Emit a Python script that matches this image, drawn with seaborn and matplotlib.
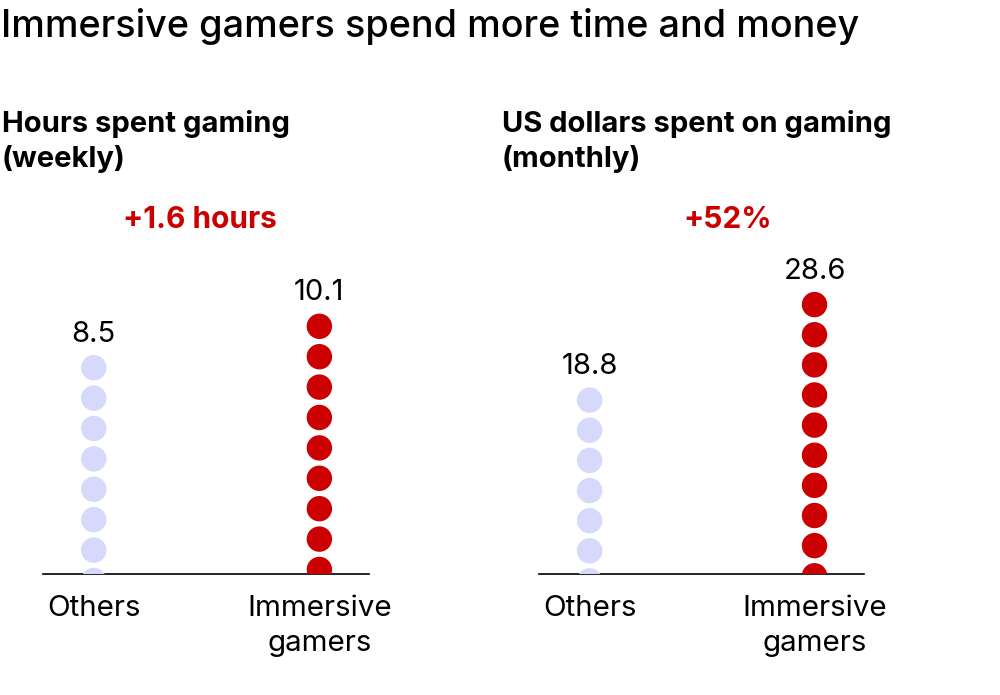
import matplotlib
matplotlib.use("Agg")
import matplotlib.pyplot as plt
import seaborn as sns
import pandas as pd
import numpy as np

# ---- data ----
categories = ["Others", "Immersive gamers"]
cat_lines = [["Others"], ["Immersive", "gamers"]]
hours_values = [8.5, 10.1]
dollars_values = [18.8, 28.6]
value_labels_hours = ["8.5", "10.1"]
value_labels_dollars = ["18.8", "28.6"]
panel_titles = [["Hours spent gaming", "(weekly)"], ["US dollars spent on gaming", "(monthly)"]]
diff_labels = ["+1.6 hours", "+52%"]
title = "Immersive gamers spend more time and money"

RED = "#CC0000"
LAV = "#D6D8FC"
palette = {categories[0]: LAV, categories[1]: RED}

sns.set_theme(style="white")
plt.rcParams["font.family"] = ["Inter", "DejaVu Sans"]
plt.rcParams["text.color"] = "black"

W, H = 1000, 695
fig = plt.figure(figsize=(W / 100, H / 100), dpi=100)


def px(x, y):
    return x / W, 1 - y / H


def make_panel(left, width, values, labels, ylim, step, subtitle, sub_x, diff, diff_x):
    base_y = 574.3
    top_y = 250
    ax = fig.add_axes([left / W, (H - base_y) / H, width / W, (base_y - top_y) / H])
    rows = []
    for cat, v in zip(categories, values):
        y = v
        while y > ylim[0] - step:
            rows.append({"group": cat, "y": y})
            y -= step
    df = pd.DataFrame(rows)
    sns.scatterplot(data=df, x="group", y="y", hue="group", palette=palette,
                    s=335, linewidth=0, legend=False, ax=ax, zorder=3)
    ax.set_xlim(-0.225, 1.22)
    ax.set_ylim(*ylim)
    for s in ["top", "left", "right"]:
        ax.spines[s].set_visible(False)
    ax.spines["bottom"].set_color("black")
    ax.spines["bottom"].set_linewidth(1.2)
    ax.set_xticks([])
    ax.set_yticks([])
    ax.set_xlabel("")
    ax.set_ylabel("")
    for i, (v, lab) in enumerate(zip(values, labels)):
        ax.annotate(lab, xy=(i, v), xytext=(0, 18.7), textcoords="offset points",
                    ha="center", va="baseline", fontsize=21, color="black")
        for j, line in enumerate(cat_lines[i]):
            ax.annotate(line, xy=(i, 0), xycoords=("data", "axes fraction"),
                        xytext=(0, -30 - j * 25.5), textcoords="offset points",
                        ha="center", va="baseline", fontsize=21.3, color="black")
    fig.text(*px(sub_x, 132), subtitle[0], fontsize=21, fontweight="bold",
             va="baseline", ha="left", color="black")
    fig.text(*px(sub_x, 167), subtitle[1], fontsize=21, fontweight="bold",
             va="baseline", ha="left", color="black")
    fig.text(*px(diff_x, 228), diff, fontsize=21.5, fontweight="bold", color=RED,
             va="baseline", ha="center")
    return ax


make_panel(43, 326, hours_values, value_labels_hours, (0.514, 13.05), 1.175,
           panel_titles[0], 2, diff_labels[0], 200)
make_panel(539, 325, dollars_values, value_labels_dollars, (0.94, 34.2), 3.09,
           panel_titles[1], 502, diff_labels[1], 728)

fig.text(*px(1, 36.7), title, fontsize=27.2, fontweight="medium", va="baseline",
         ha="left", color="black")

fig.savefig("out.png", dpi=100, facecolor="white")
